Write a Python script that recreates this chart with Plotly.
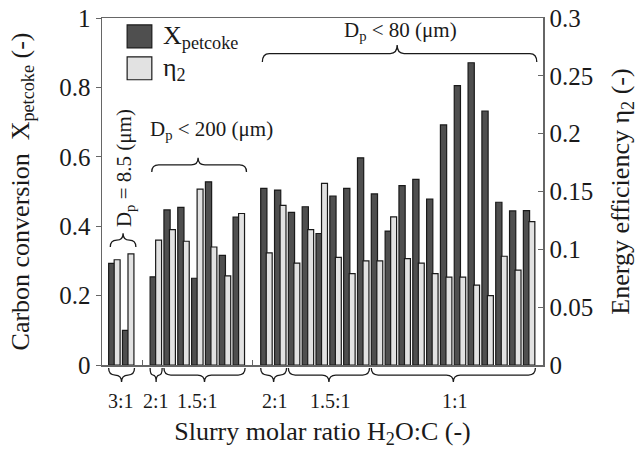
import plotly.graph_objects as go

# ---------------- data ----------------
slots = list(range(31))  # 31 category slots (2 and 10 are empty separators)
x_petcoke = [0.293, 0.100, None, 0.254, 0.447, 0.454, 0.250, 0.528, 0.316, 0.426, None,
             0.509, 0.504, 0.440, 0.456, 0.379, 0.487, 0.509, 0.597, 0.493, 0.386,
             0.517, 0.535, 0.478, 0.692, 0.805, 0.871, 0.732, 0.469, 0.444, 0.445]
eta2 = [0.091, 0.096, None, 0.108, 0.117, 0.107, 0.152, 0.102, 0.077, 0.131, None,
        0.097, 0.138, 0.088, 0.117, 0.157, 0.093, 0.079, 0.090, 0.090, 0.128,
        0.092, 0.088, 0.079, 0.076, 0.076, 0.069, 0.060, 0.094, 0.082, 0.124]

ratio_labels = ["3:1", "2:1", "1.5:1", "2:1", "1.5:1", "1:1"]
ratio_first = [0, 3, 4, 11, 13, 19]
ratio_last = [1, 3, 9, 12, 18, 30]
ratio_label_at = [0.5, 3, 6, 11.6, 15.6, 24.6]

size_labels = ["D<sub>p</sub> = 8.5 (μm)", "D<sub>p</sub> < 200 (μm)", "D<sub>p</sub> < 80 (μm)"]
size_first = [0, 3, 11]
size_last = [1, 9, 30]

gap_slots = [2, 10]

left_ticks = [0, 0.2, 0.4, 0.6, 0.8, 1]
left_ticktext = ["0", "0.2", "0.4", "0.6", "0.8", "1"]
right_ticks = [0, 0.05, 0.1, 0.15, 0.2, 0.25, 0.3]
right_ticktext = ["0", "0.05", "0.1", "0.15", "0.2", "0.25", "0.3"]

# ---------------- style ----------------
FONT = "Liberation Serif"
TXT = "#1a1a1a"
DARK = "#4f4f4f"
LIGHT = "#e2e2e2"
EDGE = "#1a1a1a"
AXC = "#666666"

fig = go.Figure()
fig.add_trace(go.Bar(x=slots, y=x_petcoke, name="X<sub>petcoke</sub>", yaxis="y",
                     width=0.45, offset=-0.42,
                     marker=dict(color=DARK, line=dict(color=EDGE, width=1.2)),
                     showlegend=False))
fig.add_trace(go.Bar(x=slots, y=eta2, name="η<sub>2</sub>", yaxis="y2",
                     width=0.43, offset=-0.02,
                     marker=dict(color=LIGHT, line=dict(color=EDGE, width=1.2)),
                     showlegend=False))


def brace(x0, x1, y_end, y_tip, xm=None):
    if xm is None:
        xm = (x0 + x1) / 2
    ym = (y_end + y_tip) / 2
    q = min(0.5, (x1 - x0) / 4)
    return (f"M{x0},{y_end} Q{x0},{ym} {x0+q},{ym} L{xm-q},{ym} "
            f"Q{xm},{ym} {xm},{y_tip} Q{xm},{ym} {xm+q},{ym} "
            f"L{x1-q},{ym} Q{x1},{ym} {x1},{y_end}")


shapes = []
annotations = []
# bottom braces (below the axis) and ratio labels
for lab, a, b, lx in zip(ratio_labels, ratio_first, ratio_last, ratio_label_at):
    x0, x1 = a - 0.42, b + 0.45
    shapes.append(dict(type="path", xref="x", yref="paper",
                       path=brace(x0, x1, -0.009, -0.049),
                       line=dict(color=TXT, width=1.3)))
    annotations.append(dict(x=lx, y=-0.104, xref="x", yref="paper", text=lab,
                            showarrow=False, font=dict(family=FONT, size=20, color=TXT),
                            xanchor="center", yanchor="middle"))

# top braces for particle sizes
top_end = [0.340, 0.556, 0.873]
top_tip = [0.380, 0.597, 0.922]
top_mid = [None, 6.05, 20.45]
for a, b, ye, yt, xm in zip(size_first, size_last, top_end, top_tip, top_mid):
    shapes.append(dict(type="path", xref="x", yref="y",
                       path=brace(a - 0.3, b + 0.55, ye, yt, xm),
                       line=dict(color=TXT, width=1.3)))

annotations.append(dict(x=0.75, y=0.567, xref="x", yref="y", text=size_labels[0],
                        textangle=-90, showarrow=False,
                        font=dict(family=FONT, size=21, color=TXT)))
annotations.append(dict(x=7.0, y=0.677, xref="x", yref="y", text=size_labels[1],
                        showarrow=False, font=dict(family=FONT, size=21, color=TXT)))
annotations.append(dict(x=20.7, y=0.962, xref="x", yref="y", text=size_labels[2],
                        showarrow=False, font=dict(family=FONT, size=21, color=TXT)))

# manual legend
legend_items = [("X<sub>petcoke</sub>", DARK), ("η<sub>2</sub>", LIGHT)]
for i, (txt, col) in enumerate(legend_items):
    top = 0.980 - i * 0.092
    shapes.append(dict(type="rect", xref="paper", yref="paper",
                       x0=0.057, x1=0.113, y0=top - 0.066, y1=top,
                       fillcolor=col, line=dict(color=EDGE, width=1.2)))
    annotations.append(dict(x=0.134, y=top - 0.036, xref="paper", yref="paper",
                            text=txt, showarrow=False, xanchor="left", yanchor="middle",
                            font=dict(family=FONT, size=26, color=TXT)))

fig.update_layout(
    width=638, height=455,
    margin=dict(l=102, r=95, t=18, b=90, autoexpand=False),
    paper_bgcolor="white", plot_bgcolor="white",
    font=dict(family=FONT, size=20, color=TXT),
    bargap=0, showlegend=False, hovermode=False,
    shapes=shapes, annotations=annotations,
    xaxis=dict(range=[-0.9, 31.0], showgrid=False, zeroline=False, automargin=False,
               showline=True, linecolor=AXC, linewidth=1.5, mirror=True,
               tickvals=gap_slots, ticks="inside", ticklen=5, tickcolor=AXC,
               showticklabels=False,
               title=dict(text="Slurry molar ratio H<sub>2</sub>O:C (-)",
                          font=dict(family=FONT, size=26, color=TXT), standoff=56)),
    yaxis=dict(range=[0, 1], showgrid=False, zeroline=False, automargin=False,
               showline=True, linecolor=AXC, linewidth=1.5,
               tickvals=left_ticks, ticktext=left_ticktext,
               ticks="outside", ticklen=5, tickcolor=AXC,
               tickfont=dict(family=FONT, size=25, color=TXT),
               title=dict(text="Carbon conversion  X<sub>petcoke</sub> (-)",
                          font=dict(family=FONT, size=26, color=TXT), standoff=22)),
    yaxis2=dict(range=[0, 0.3], overlaying="y", side="right", showgrid=False,
                zeroline=False, showline=True, linecolor=AXC, linewidth=1.5,
                automargin=False,
                tickvals=right_ticks, ticktext=right_ticktext,
                ticks="inside", ticklen=5, tickcolor=AXC,
                tickfont=dict(family=FONT, size=25, color=TXT),
                title=dict(text="Energy efficiency η<sub>2</sub> (-)",
                           font=dict(family=FONT, size=26, color=TXT), standoff=22)),
)

fig.write_html("out.html",
               config={"displayModeBar": False, "staticPlot": True},
               post_script="document.body.style.margin='0';"
                           "document.body.style.overflow='hidden';")
